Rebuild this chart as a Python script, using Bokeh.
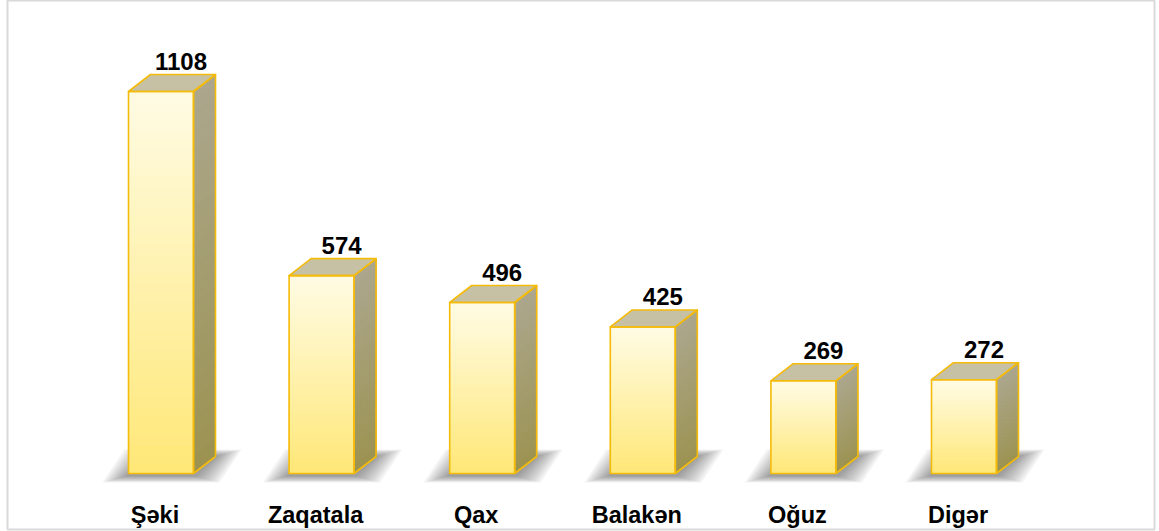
import numpy as np
from bokeh.plotting import figure
from bokeh.models import Range1d
from bokeh.core.properties import value
from bokeh.embed import file_html
from bokeh.resources import INLINE

# ---- data ----
categories = ["Şəki", "Zaqatala", "Qax", "Balakən", "Oğuz", "Digər"]
values = [1108, 574, 496, 425, 269, 272]

# ---- layout / style ----
W, H = 1159, 531
ML, MR, MT, MB = 7, 5, 0, 2
FW, FH = W - ML - MR, H - MT - MB
step_px = 160.6          # pixels per category
first_px = 153.5         # frame-x of first bar centre
base_px = 56             # frame pixels from bottom to value 0
upp = 1108 / 382.0       # value units per pixel

x0 = -first_px / step_px
x1 = (FW - first_px) / step_px
y0 = -base_px * upp
y1 = (FH - base_px) * upp

px = 1 / step_px         # one pixel in x units
hw = 32.5 * px           # half bar width
dx = 22 * px             # depth offset x
dy = 17 * upp            # depth offset y

p = figure(width=W, height=H, x_range=Range1d(x0, x1), y_range=Range1d(y0, y1),
           output_backend="svg", toolbar_location=None,
           min_border_left=ML, min_border_right=MR, min_border_top=MT, min_border_bottom=MB)
p.axis.visible = False
p.grid.visible = False
p.outline_line_color = "#d9d9d9"
p.outline_line_width = 2
p.background_fill_color = "white"

def mix(c1, c2, t):
    a = np.array([int(c1[i:i + 2], 16) for i in (1, 3, 5)], float)
    b = np.array([int(c2[i:i + 2], 16) for i in (1, 3, 5)], float)
    c = a + (b - a) * t
    return "#%02x%02x%02x" % tuple(int(round(v)) for v in c)

xs = np.arange(len(categories), dtype=float)

# soft shadows (blurred footprint)
for k in range(10):
    s = 1 - k / 10.0
    rx, ry = 26 * s * px, 7 * s * upp
    sh_x, sh_y = [], []
    for xi in xs:
        sh_x.append([xi - hw - rx, xi + hw + rx, xi + hw + dx + rx, xi - hw + dx - rx])
        sh_y.append([-ry - 2 * upp, -ry - 2 * upp, dy + ry, dy + ry])
    p.patches(sh_x, sh_y, fill_color="#3a3a3a", fill_alpha=0.06, line_color=None)

N = 40
front_top, front_bot = "#fffbe3", "#ffe878"
side_top, side_bot = "#aba68c", "#9c9352"
top_col = "#c6c0a5"
edge = "#f5bb0a"

for xi, v in zip(xs, values):
    edges = np.linspace(0, v, N + 1)
    ts = np.linspace(0, 1, N)  # 0 = bottom
    fcols = [mix(front_bot, front_top, t) for t in ts]
    p.quad(left=xi - hw, right=xi + hw, bottom=edges[:-1], top=edges[1:],
           fill_color=fcols, line_color=fcols, line_width=1)
    sx, sy = [], []
    for j in range(N):
        b, t = edges[j], edges[j + 1]
        sx.append([xi + hw, xi + hw + dx, xi + hw + dx, xi + hw])
        sy.append([b, b + dy, t + dy, t])
    scols = [mix(side_bot, side_top, t) for t in ts]
    p.patches(sx, sy, fill_color=scols, line_color=scols, line_width=1)
    # top face
    tx = [xi - hw, xi + hw, xi + hw + dx, xi - hw + dx]
    ty = [v, v, v + dy, v + dy]
    p.patch(tx, ty, fill_color=top_col, line_color=edge, line_width=1.6, line_join="round")
    # outlines
    p.patch([xi - hw, xi + hw, xi + hw, xi - hw], [0, 0, v, v],
            fill_color=None, line_color=edge, line_width=1.6, line_join="round")
    p.patch([xi + hw, xi + hw + dx, xi + hw + dx, xi + hw], [0, dy, v + dy, v],
            fill_color=None, line_color=edge, line_width=1.6, line_join="round")

# value labels
p.text(x=xs + 20 * px, y=[v + dy + 13 * upp for v in values], text=[str(v) for v in values],
       text_font=value("Liberation Sans"), text_font_style="bold", text_font_size="24px",
       text_align="center", text_baseline="middle", text_color="black")

# category labels
p.text(x=xs - 6 * px, y=np.full(len(xs), -41 * upp), text=categories,
       text_font=value("Liberation Sans"), text_font_style="bold", text_font_size="23.5px",
       text_align="center", text_baseline="middle", text_color="black")

open("out.html", "w").write(file_html(p, INLINE))
